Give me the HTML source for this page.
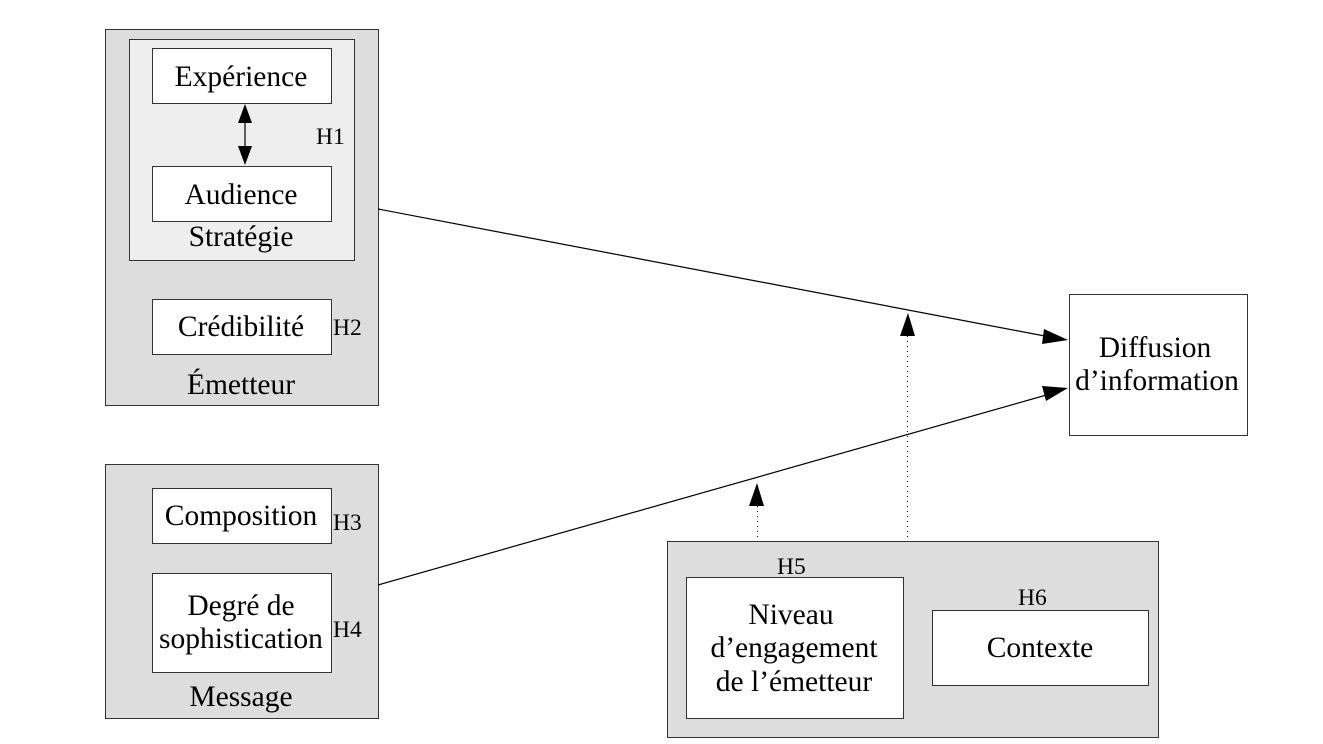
<!DOCTYPE html>
<html><head><meta charset="utf-8"><style>
html,body{margin:0;padding:0;background:#fff;}
svg{display:block;}
text{font-family:"Liberation Serif",serif;fill:#000;}
</style></head><body>
<svg width="1323" height="744" viewBox="0 0 1323 744" xmlns="http://www.w3.org/2000/svg">
<g stroke="#333" stroke-width="1">
<rect x="105.5" y="29.5" width="273" height="376" fill="#dddddd"/>
<rect x="129.5" y="39.5" width="225" height="221" fill="#eeeeee"/>
<rect x="152.5" y="48.5" width="179" height="55" fill="#fff"/>
<rect x="152.5" y="166.5" width="179" height="55" fill="#fff"/>
<rect x="152.5" y="299.5" width="179" height="55" fill="#fff"/>
<rect x="105.5" y="464.5" width="273" height="254" fill="#dddddd"/>
<rect x="152.5" y="488.5" width="179" height="55" fill="#fff"/>
<rect x="152.5" y="573.5" width="179" height="99" fill="#fff"/>
<rect x="1069.5" y="294.5" width="178" height="141" fill="#fff"/>
<rect x="667.5" y="541.5" width="491" height="196" fill="#dddddd"/>
<rect x="686.5" y="577.5" width="217" height="141" fill="#fff"/>
<rect x="932.5" y="610.5" width="216" height="75" fill="#fff"/>
</g>
<g stroke="#000" stroke-width="1.2" fill="none">
<line x1="245" y1="120" x2="245" y2="150"/>
<line x1="378" y1="209" x2="1050" y2="337"/>
<line x1="378" y1="585" x2="1050" y2="394"/>
</g>
<g stroke="#000" stroke-width="1" stroke-dasharray="1,4">
<line x1="907.5" y1="336" x2="907.5" y2="540"/>
<line x1="757.5" y1="506" x2="757.5" y2="540"/>
</g>
<g fill="#000">
<polygon points="245,104 238,123 252,123"/>
<polygon points="245,165 238,146 252,146"/>
<polygon points="908,313 900,336 915,336"/>
<polygon points="757,483 749,506 764,506"/>
<polygon points="1068,340 1044,329 1042,344"/>
<polygon points="1068,388 1042,386 1046,401"/>
</g>
<g font-size="29.5" text-anchor="middle">
<text x="241" y="86">Expérience</text>
<text x="241" y="204">Audience</text>
<text x="241" y="246">Stratégie</text>
<text x="241" y="336">Crédibilité</text>
<text x="241" y="394">Émetteur</text>
<text x="241" y="525">Composition</text>
<text x="241" y="615">Degré de</text>
<text x="241" y="648">sophistication</text>
<text x="241" y="706">Message</text>
<text x="1155" y="357">Diffusion</text>
<text x="1157" y="390">d’information</text>
<text x="791" y="624">Niveau</text>
<text x="794" y="657">d’engagement</text>
<text x="794" y="691">de l’émetteur</text>
<text x="1040" y="657">Contexte</text>
</g>
<g font-size="23.5">
<text x="316" y="144">H1</text>
<text x="333" y="335">H2</text>
<text x="333" y="530">H3</text>
<text x="333" y="637">H4</text>
<text x="777" y="574">H5</text>
<text x="1018" y="605">H6</text>
</g>
</svg>
</body></html>
